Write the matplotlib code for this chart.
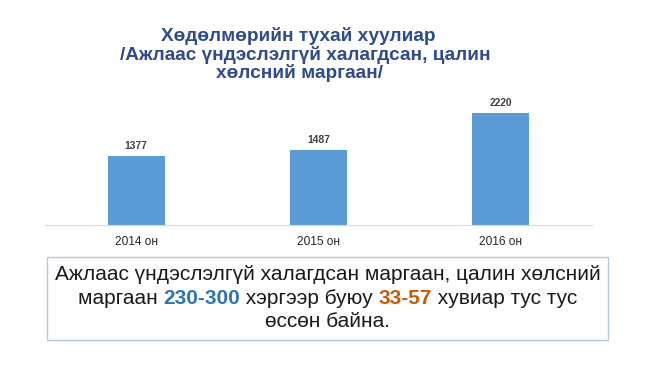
import matplotlib
matplotlib.use('Agg')
import matplotlib.pyplot as plt
from matplotlib.patches import Rectangle

categories = ['2014 он', '2015 он', '2016 он']
values = [1377, 1487, 2220]
title_lines = ['Хөдөлмөрийн тухай хуулиар',
               '/Ажлаас үндэслэлгүй халагдсан, цалин',
               'хөлсний маргаан/']
note_line1 = 'Ажлаас үндэслэлгүй халагдсан маргаан, цалин хөлсний'
note_line2 = [('маргаан ', 'normal', '#1A1A1A'),
              ('230-300', 'bold', '#2E75B6'),
              (' хэргээр буюу ', 'normal', '#1A1A1A'),
              ('33-57', 'bold', '#C55A11'),
              (' хувиар тус тус', 'normal', '#1A1A1A')]
note_line3 = 'өссөн байна.'

plt.rcParams['font.family'] = ['Liberation Sans', 'DejaVu Sans']
W, H = 650, 365
fig = plt.figure(figsize=(W / 100, H / 100), dpi=100)
fig.patch.set_facecolor('white')

def fx(px):
    return px / W

def fy(py):
    return 1 - py / H

ax = fig.add_axes([fx(45), fy(225), 547 / W, 130 / H])
x = range(len(categories))
bars = ax.bar(x, values, width=0.313, color='#5B9BD5')
ax.set_xlim(-0.5, len(categories) - 0.5)
ax.set_ylim(0, 2577)
for s in ['top', 'left', 'right']:
    ax.spines[s].set_visible(False)
ax.spines['bottom'].set_color('#D9D9D9')
ax.set_yticks([])
ax.set_xticks(list(x))
ax.set_xticklabels(categories, fontsize=8.6, color='#262626')
ax.tick_params(axis='x', length=0, pad=8)
ax.bar_label(bars, padding=3.5, fontsize=7.4, fontweight='bold', color='#404040')

title_y = [41, 59.8, 78.5]
title_x = [298, 305.5, 299]
for t, xx, yy in zip(title_lines, title_x, title_y):
    fig.text(fx(xx), fy(yy), t, ha='center', va='baseline', fontsize=13.7,
             fontweight='bold', color='#2F4B8C')

fig.add_artist(Rectangle((fx(47), fy(340)), (608 - 47) / W, (340 - 257) / H,
                         transform=fig.transFigure, facecolor='white',
                         edgecolor='#B4C7DC', linewidth=1))

cx = 327.5
fig.text(fx(cx), fy(280), note_line1, ha='center', va='baseline', fontsize=15, color='#1A1A1A')
fig.text(fx(cx), fy(327), note_line3, ha='center', va='baseline', fontsize=15, color='#1A1A1A')

fig.canvas.draw()
renderer = fig.canvas.get_renderer()
texts = []
widths = []
for s, w, c in note_line2:
    t = fig.text(0, fy(304), s, ha='left', va='baseline', fontsize=15, fontweight=w, color=c)
    texts.append(t)
    widths.append(t.get_window_extent(renderer).width)
total = sum(widths)
start = cx - total / 2
for t, wd in zip(texts, widths):
    t.set_x(fx(start))
    start += wd

fig.savefig('out.png', dpi=100, facecolor='white')
